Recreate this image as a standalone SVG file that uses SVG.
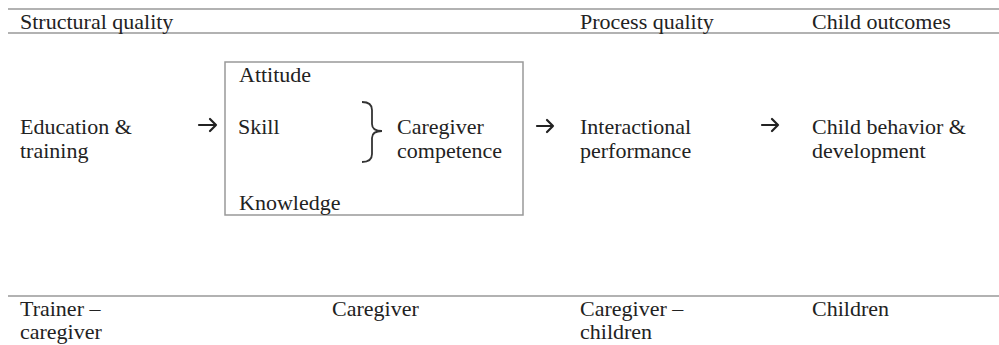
<svg xmlns="http://www.w3.org/2000/svg" width="999" height="345" viewBox="0 0 999 345">
<style>
text{font-family:"Liberation Serif","Times New Roman",serif;font-size:22px;fill:#222}
.rule{stroke:#999;stroke-width:1.5;fill:none}
.box{stroke:#999;stroke-width:1.5;fill:none}
.arr{stroke:#222;stroke-width:2.2;fill:none;stroke-linecap:round;stroke-linejoin:round}
.brace{stroke:#333;stroke-width:1.8;fill:none}
</style>
<rect width="999" height="345" fill="#fff"/>
<g id="rules">
<line class="rule" x1="8" y1="9" x2="999" y2="9"/>
<line class="rule" x1="8" y1="33" x2="999" y2="33"/>
<line class="rule" x1="8" y1="296" x2="999" y2="296"/>
</g>
<g id="headers">
<text x="20" y="29">Structural quality</text>
<text x="580" y="29">Process quality</text>
<text x="812" y="29">Child outcomes</text>
</g>
<g id="education">
<text x="20" y="134">Education &amp;</text>
<text x="20" y="158">training</text>
</g>
<g id="competence-box">
<rect class="box" x="225" y="62" width="298" height="153"/>
<text x="239" y="82">Attitude</text>
<text x="238" y="134">Skill</text>
<text x="239" y="210">Knowledge</text>
<path class="brace" d="M362 102 Q372 102 372 110 L372 124 Q372 131 382 131 Q372 131 372 138 L372 154 Q372 162 362 162"/>
<text x="397" y="134">Caregiver</text>
<text x="397" y="158">competence</text>
</g>
<g id="interactional">
<text x="580" y="134">Interactional</text>
<text x="580" y="158">performance</text>
</g>
<g id="child">
<text x="812" y="134">Child behavior &amp;</text>
<text x="812" y="158">development</text>
</g>
<g id="connectors">
<path class="arr" d="M199 125 H216 M210 119 L216 125 L210 131"/>
<path class="arr" d="M537 126 H553 M547 120 L553 126 L547 132"/>
<path class="arr" d="M762 125 H778 M772 119 L778 125 L772 131"/>
</g>
<g id="levels">
<text x="20" y="316">Trainer –</text>
<text x="20" y="339">caregiver</text>
<text x="332" y="316">Caregiver</text>
<text x="580" y="316">Caregiver –</text>
<text x="580" y="339">children</text>
<text x="812" y="316">Children</text>
</g>
</svg>
